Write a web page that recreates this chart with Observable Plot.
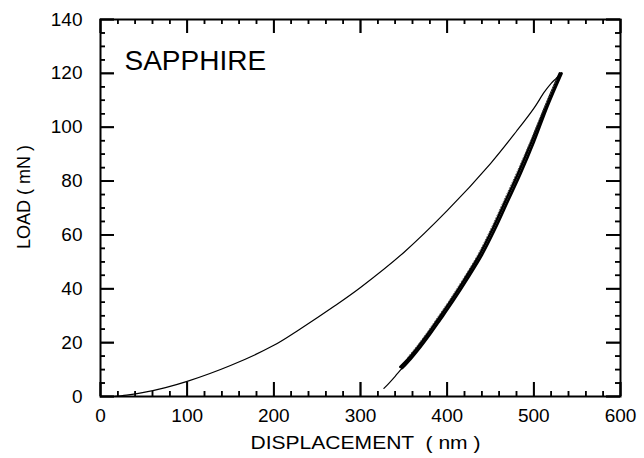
<!DOCTYPE html>
<html>
<head>
<meta charset="utf-8">
<script src="https://cdn.jsdelivr.net/npm/d3@7"></script>
<script src="https://cdn.jsdelivr.net/npm/@observablehq/plot@0.6"></script>
<style>
  html, body { margin: 0; padding: 0; background: #fff; }
  #chart { width: 644px; height: 458px; position: relative; }
  #chart > svg { position: absolute; left: 0; top: 0; }
</style>
</head>
<body>
<div id="chart"></div>
<script>
// ---- Data ----
const title = "SAPPHIRE";
const xLabel = "DISPLACEMENT  ( nm )";
const yLabel = "LOAD ( mN )";

const xTicks = [0, 100, 200, 300, 400, 500, 600];
const yTicks = [0, 20, 40, 60, 80, 100, 120, 140];
const xMinorTicks = [20, 40, 60, 80, 120, 140, 160, 180, 220, 240, 260, 280, 320, 340, 360, 380, 420, 440, 460, 480, 520, 540, 560, 580];
const yMinorTicks = [5, 10, 15, 25, 30, 35, 45, 50, 55, 65, 70, 75, 85, 90, 95, 105, 110, 115, 125, 130, 135];

// loading curve: displacement (nm), load (mN)
const loadDisp = [15, 30, 50, 75, 100, 150, 200, 230, 270, 300, 350, 400, 450, 480, 500, 512, 520, 526, 531];
const loadLoad = [0, 0.5, 1.5, 3.3, 5.6, 11.5, 19, 25, 33.6, 40.5, 53.5, 69, 86.5, 98.5, 107, 113, 116.3, 118.2, 120];

// unloading curve A (full unloading)
const unloadADisp = [532, 516, 500, 485, 470, 455, 440, 423, 407, 392, 380, 369, 358, 348];
const unloadALoad = [120, 108, 94.5, 83, 72.5, 62, 52.5, 43.5, 35.5, 28.5, 23, 18.3, 14, 10.5];
// tail of curve A down to the residual depth
const tailDisp = [348, 340, 333, 327];
const tailLoad = [10.5, 7.5, 5, 3];

// unloading curve B (partial unloading)
const unloadBDisp = [530, 514, 497, 482, 467, 452, 437, 420, 404, 389, 377, 366, 355, 346];
const unloadBLoad = [120, 108, 94.5, 83, 72.5, 62, 52.5, 43.5, 35.5, 28.5, 23, 18.3, 14, 11];

// dotted fit
const fitDisp = [526, 511, 495, 480, 465, 450, 435, 418, 402, 387, 375, 364, 353];
const fitLoad = [117.5, 106.5, 94, 83, 72.5, 62, 52.5, 43.5, 35.5, 28.5, 23, 18.3, 14];

// ---- Build tables ----
const zip = (xs, ys) => xs.map((x, i) => ({x, y: ys[i]}));
const loading = zip(loadDisp, loadLoad);
const unloadA = zip(unloadADisp, unloadALoad);
const tailA = zip(tailDisp, tailLoad);
const unloadB = zip(unloadBDisp, unloadBLoad);
const fit = zip(fitDisp, fitLoad);

// frame: 520 x 377 px for 600 x 140 data units
const Y_PER_PX = 140 / 377, X_PER_PX = 600 / 520;
const yMajorLen = 14 * Y_PER_PX, yMinorLen = 5 * Y_PER_PX;
const xMajorLen = 14 * X_PER_PX, xMinorLen = 5 * X_PER_PX;

const layout = {
  width: 644, height: 458,
  marginLeft: 100, marginRight: 24, marginTop: 19, marginBottom: 62,
  x: {domain: [0, 600]},
  y: {domain: [0, 140]}
};

const tickMarks = [
  Plot.ruleX(xTicks, {x: d => d, y1: 0, y2: yMajorLen, stroke: "black", strokeWidth: 1.8}),
  Plot.ruleX(xTicks, {x: d => d, y1: 140 - yMajorLen, y2: 140, stroke: "black", strokeWidth: 1.8}),
  Plot.ruleX(xMinorTicks, {x: d => d, y1: 0, y2: yMinorLen, stroke: "black", strokeWidth: 1.5}),
  Plot.ruleX(xMinorTicks, {x: d => d, y1: 140 - yMinorLen, y2: 140, stroke: "black", strokeWidth: 1.5}),
  Plot.ruleY(yTicks, {y: d => d, x1: 0, x2: xMajorLen, stroke: "black", strokeWidth: 1.8}),
  Plot.ruleY(yTicks, {y: d => d, x1: 600 - xMajorLen, x2: 600, stroke: "black", strokeWidth: 1.8}),
  Plot.ruleY(yMinorTicks, {y: d => d, x1: 0, x2: xMinorLen, stroke: "black", strokeWidth: 1.5}),
  Plot.ruleY(yMinorTicks, {y: d => d, x1: 600 - xMinorLen, x2: 600, stroke: "black", strokeWidth: 1.5})
];

const plot = Plot.plot({
  ...layout,
  style: {fontFamily: "Liberation Sans, Arial, sans-serif", background: "white"},
  marks: [
    Plot.frame({stroke: "black", fill: "none", strokeWidth: 2}),
    // curves
    Plot.line(loading, {x: "x", y: "y", stroke: "black", strokeWidth: 1.2, curve: "catmull-rom"}),
    Plot.line(unloadA, {x: "x", y: "y", stroke: "black", strokeWidth: 2.6, curve: "catmull-rom"}),
    Plot.line(unloadB, {x: "x", y: "y", stroke: "black", strokeWidth: 2.6, curve: "catmull-rom"}),
    Plot.line(tailA, {x: "x", y: "y", stroke: "black", strokeWidth: 1.2, curve: "catmull-rom"}),
    Plot.line(fit, {x: "x", y: "y", stroke: "#555", strokeWidth: 1, strokeDasharray: "1,2", curve: "catmull-rom"}),
    // tick labels
    Plot.axisX({ticks: xTicks, anchor: "bottom", tickSize: 0, tickPadding: 12, fontSize: 19, label: null}),
    Plot.axisY({ticks: yTicks, anchor: "left", tickSize: 0, tickPadding: 18, fontSize: 19, label: null}),
    // texts
    Plot.text([title], {frameAnchor: "top-left", dx: 24, dy: 31, textAnchor: "start", lineAnchor: "top", fontSize: 28}),
    Plot.text([xLabel], {frameAnchor: "bottom", dx: 5, dy: 46, textAnchor: "middle", lineAnchor: "middle", fontSize: 19}),
    Plot.text([yLabel], {frameAnchor: "left", rotate: -90, dx: -76, dy: -11, textAnchor: "middle", lineAnchor: "middle", fontSize: 18}),
    ...tickMarks
  ]
});

// tick overlay drawn with the same scales on a transparent layer
const ticksLayer = Plot.plot({
  ...layout,
  x: {...layout.x, axis: null},
  y: {...layout.y, axis: null},
  style: {background: "transparent"},
  marks: tickMarks
});
ticksLayer.style.background = "transparent";

const chart = document.getElementById("chart");
chart.appendChild(plot);
chart.appendChild(ticksLayer);

// stretch x axis title to match the reference width
plot.querySelectorAll("text").forEach(t => {
  if (t.textContent === xLabel) { t.setAttribute("textLength", 230); t.setAttribute("lengthAdjust", "spacingAndGlyphs"); }
});
</script>
</body>
</html>
